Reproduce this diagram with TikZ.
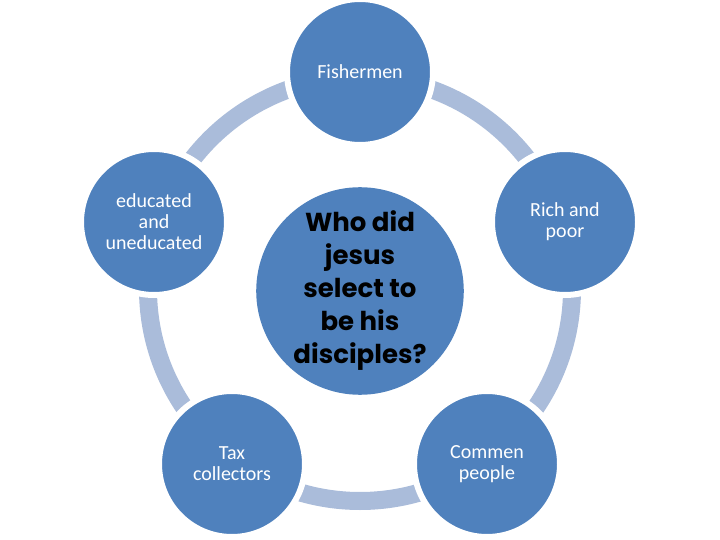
\documentclass[tikz,border=0pt]{standalone}
\usepackage{fontspec}
\setmainfont{Carlito}
\newfontfamily\qfont{Poppins}
\definecolor{blu}{RGB}{79,129,189}
\definecolor{ringc}{RGB}{170,188,218}
\begin{document}
\begin{tikzpicture}[x=1pt,y=-1pt,
  outer/.style={circle, fill=blu, draw=white, line width=6pt, minimum size=146pt,
    inner sep=0pt, text=white, font=\fontsize{20}{21}\selectfont, align=center},
  center/.style={circle, fill=blu, minimum size=202pt, inner sep=0pt, align=center,
    text=black, font=\qfont\bfseries\fontsize{26}{33}\selectfont},
  ring/.style={draw=ringc, line width=18pt}]
\useasboundingbox (0,0) rectangle (720,540);
\coordinate (o) at (360,289);
\draw[ring] (o) circle[radius=212];
\node[outer] (fish) at (360,72) {Fishermen};
\node[outer] (rich) at (565,222) {Rich and\\poor};
\node[outer] (comm) at (487,464) {Commen\\people};
\node[outer] (tax) at (232,464) {Tax\\collectors};
\node[outer] (edu) at (154,222) {educated\\and\\uneducated};
\node[center] (q) at (360,291) {Who did\\jesus\\select to\\be his\\disciples?};
\end{tikzpicture}
\end{document}
